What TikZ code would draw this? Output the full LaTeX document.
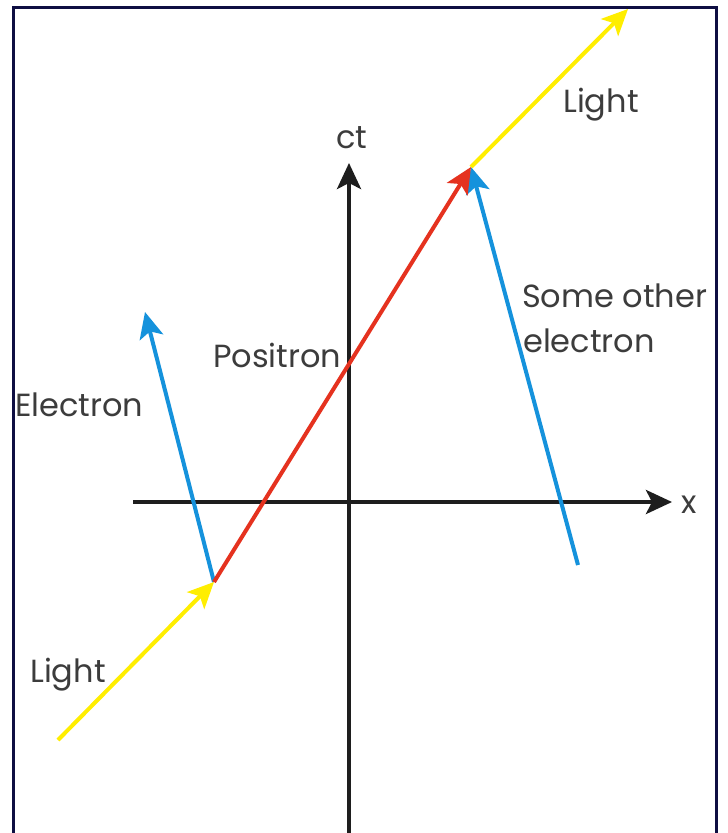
\documentclass[tikz,border=0pt]{standalone}
\usepackage{fontspec}
\setmainfont{Poppins}
\usetikzlibrary{arrows.meta}
\definecolor{frame}{HTML}{0E0E42}
\definecolor{lightY}{HTML}{FFEE00}
\definecolor{posR}{HTML}{E5321F}
\definecolor{elB}{HTML}{1592DC}
\definecolor{axisK}{HTML}{1E1E1E}
\definecolor{txt}{HTML}{3C3C3C}
\tikzset{
  tip/.style={-{Stealth[length=26pt,width=24pt,inset=6pt]}},
  axisline/.style={tip, line width=4pt, draw=axisK},
  wl/.style={tip, line width=4pt},
  lbl/.style={anchor=base west, inner sep=0pt, text=txt, font=\fontsize{32}{36}\selectfont},
}
\begin{document}
\begin{tikzpicture}[x=1pt,y=-1pt]
\useasboundingbox (0,0) rectangle (728,833);
\fill[white] (0,0) rectangle (728,833);
% frame (open at the bottom)
\draw[frame, line width=3pt] (13.5,833) -- (13.5,7) -- (716,7) -- (716,833);
% coordinates
\coordinate (xs) at (133,502);
\coordinate (xe) at (672,502);
\coordinate (ts) at (349,833);
\coordinate (te) at (349,163);
\coordinate (A) at (214,582);
\coordinate (B) at (471,167);
\coordinate (Ls) at (58,740);
\coordinate (Le) at (628,9);
\coordinate (Ee) at (145,312);
\coordinate (Ss) at (578,565);
% axes
\draw[axisline] (xs) -- (xe);
\draw[axisline] (ts) -- (te);
% world lines
\draw[wl, draw=elB] (A) -- (Ee);
\draw[wl, draw=elB] (Ss) -- (B);
\draw[wl, draw=posR] (A) -- (B);
\draw[wl, draw=lightY] (Ls) -- (A);
\draw[wl, draw=lightY] (B) -- (Le);
% labels
\node[lbl] (lct) at (336,148) {ct};
\node[lbl] (lx) at (681,513) {x};
\node[lbl] (lLu) at (563,112) {Light};
\node[lbl] (lLd) at (30,682) {Light};
\node[lbl] (lso) at (522,307) {Some other};
\node[lbl] (lel) at (523,352) {electron};
\node[lbl] (lpo) at (213,367) {Positron};
\node[lbl] (lE) at (15,416) {Electron};
\end{tikzpicture}
\end{document}
